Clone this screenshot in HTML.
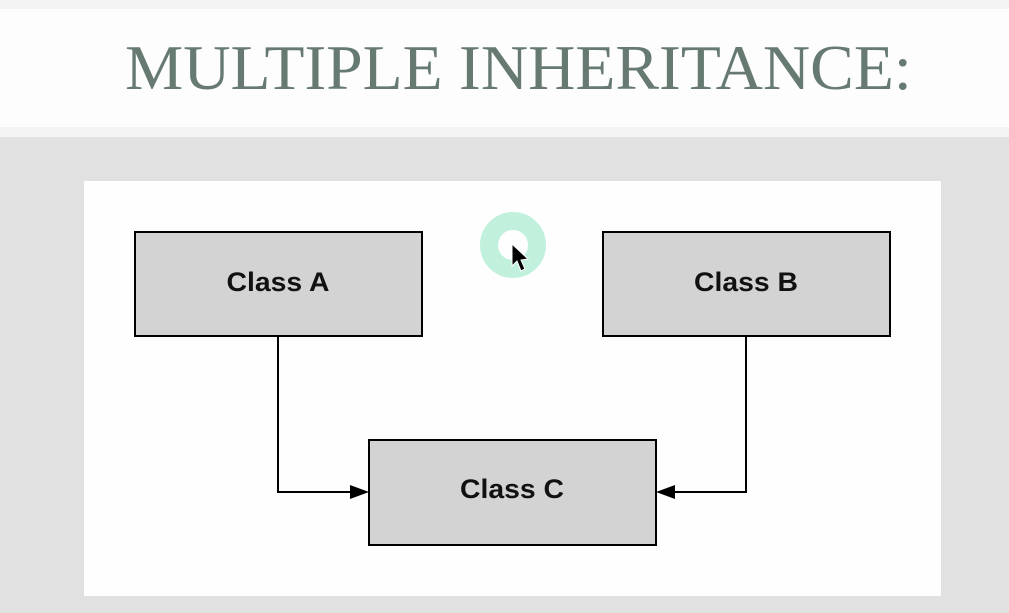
<!DOCTYPE html>
<html><head><meta charset="utf-8"><style>
html,body{margin:0;padding:0;width:1009px;height:613px;overflow:hidden;background:#e2e2e2}
</style></head><body>
<svg width="1009" height="613" xmlns="http://www.w3.org/2000/svg">
<rect x="0" y="0" width="1009" height="613" fill="#e1e1e1"/>
<rect x="0" y="0" width="1009" height="137" fill="#f4f4f4"/>
<rect x="0" y="9" width="1009" height="118" fill="#fdfdfd"/>
<text x="125" y="89" font-family="Liberation Serif, serif" font-size="64" fill="#667a72" textLength="787" lengthAdjust="spacingAndGlyphs">MULTIPLE INHERITANCE:</text>
<rect x="84" y="181" width="857" height="415" fill="#fefefe"/>
<g stroke="#000" stroke-width="2">
<rect x="135" y="232" width="287" height="104" fill="#d3d3d3"/>
<rect x="603" y="232" width="287" height="104" fill="#d3d3d3"/>
<rect x="369" y="440" width="287" height="105" fill="#d3d3d3"/>
<polyline points="278,336 278,492 352,492" fill="none"/>
<polyline points="746,336 746,492 674,492" fill="none"/>
</g>
<polygon points="369,492 350,485 350,499" fill="#000"/>
<polygon points="656,492 675,485 675,499" fill="#000"/>
<g font-family="Liberation Sans, sans-serif" font-weight="bold" font-size="27" fill="#111" text-anchor="middle">
<text x="278" y="291" textLength="103" lengthAdjust="spacingAndGlyphs">Class A</text>
<text x="746" y="291" textLength="104" lengthAdjust="spacingAndGlyphs">Class B</text>
<text x="512" y="498" textLength="104" lengthAdjust="spacingAndGlyphs">Class C</text>
</g>
<circle cx="513" cy="245" r="24" fill="none" stroke="#c1f1dd" stroke-width="18"/>
<polygon points="512,244 512,266 517,261 521,271 525,269 521,260 528,259" fill="#000" stroke="#fff" stroke-width="1"/>
</svg>
</body></html>
